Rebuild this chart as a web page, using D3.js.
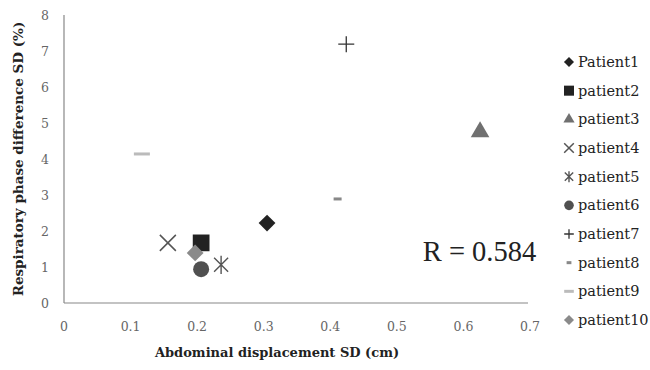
<!DOCTYPE html>
<html><head><meta charset="utf-8">
<script src="https://cdn.jsdelivr.net/npm/d3@7"></script>
<style>body{margin:0;background:#fff;} svg{display:block;}</style>
</head><body><svg id="c" width="650" height="370"></svg>
<script>
const patients = ["Patient1","patient2","patient3","patient4","patient5","patient6","patient7","patient8","patient9","patient10"];
const xValues = [0.305, 0.206, 0.625, 0.156, 0.236, 0.206, 0.424, 0.411, 0.117, 0.197];
const yValues = [2.22, 1.67, 4.75, 1.67, 1.06, 0.94, 7.19, 2.89, 4.14, 1.39];
const shapes = ["diamond","square","triangle","x","asterisk","circle","plus","dash","dash2","diamond"];
const colors = ["#222","#222","#707070","#555","#555","#505050","#333","#888","#bbb","#8a8a8a"];
const xTicks = [0,0.1,0.2,0.3,0.4,0.5,0.6,0.7];
const yTicks = [0,1,2,3,4,5,6,7,8];
const rText = "R = 0.584";

const svg = d3.select("#c");
const font = "'DejaVu Serif', serif";
const x = d3.scaleLinear().domain([0,0.7]).range([64,530]);
const y = d3.scaleLinear().domain([0,8]).range([303,15]);

svg.append("line").attr("x1",x(0)).attr("x2",x(0.7)-2).attr("y1",y(0)).attr("y2",y(0)).attr("stroke","#888").attr("stroke-width",1.2);
svg.append("line").attr("x1",x(0)).attr("x2",x(0)).attr("y1",y(0)).attr("y2",y(8)).attr("stroke","#888").attr("stroke-width",1.2);

svg.selectAll(".xt").data(xTicks).enter().append("text")
  .attr("x",d=>x(d)).attr("y",331).attr("text-anchor","middle")
  .attr("font-family",font).attr("font-size",12.5).attr("fill","#666")
  .text(d=>d===0?"0":d3.format(".1f")(d));
svg.selectAll(".yt").data(yTicks).enter().append("text")
  .attr("x",45).attr("y",d=>y(d)+4.5).attr("text-anchor","middle")
  .attr("font-family",font).attr("font-size",12.5).attr("fill","#666")
  .text(d=>d);

svg.append("text").attr("x",277).attr("y",357).attr("text-anchor","middle")
  .attr("font-family",font).attr("font-weight","bold").attr("font-size",13).attr("fill","#222")
  .text("Abdominal displacement SD (cm)");
svg.append("text").attr("transform","translate(23,159) rotate(-90)").attr("text-anchor","middle")
  .attr("font-family",font).attr("font-weight","bold").attr("font-size",13.5).attr("fill","#222")
  .text("Respiratory phase difference SD (%)");

svg.append("text").attr("x",479.5).attr("y",261).attr("text-anchor","middle")
  .attr("font-family","'Liberation Serif', serif").attr("font-size",28.5).attr("fill","#222")
  .text(rText);

function drawMarker(g, shape, color, s) {
  if (shape==="diamond") g.append("path").attr("d",d3.symbol(d3.symbolDiamond2, 180*s*s)()).attr("fill",color);
  else if (shape==="square") g.append("path").attr("d",d3.symbol(d3.symbolSquare, 280*s*s)()).attr("fill",color);
  else if (shape==="triangle") g.append("path").attr("d",d3.symbol(d3.symbolTriangle, 150*s*s)()).attr("fill",color);
  else if (shape==="circle") g.append("circle").attr("r",8*s).attr("fill",color);
  else if (shape==="x") { const r=8*s; g.append("path").attr("d",`M${-r},${-r}L${r},${r}M${-r},${r}L${r},${-r}`).attr("stroke",color).attr("stroke-width",1.5); }
  else if (shape==="asterisk") { const r=7*s; g.append("path").attr("d",`M${-r},${-r}L${r},${r}M${-r},${r}L${r},${-r}M0,${-r*1.3}L0,${r*1.3}`).attr("stroke",color).attr("stroke-width",1.4); }
  else if (shape==="plus") { const r=8*s; g.append("path").attr("d",`M${-r},0L${r},0M0,${-r}L0,${r}`).attr("stroke",color).attr("stroke-width",1.3); }
  else if (shape==="dash") { const r=4*s; g.append("rect").attr("x",-r).attr("y",-1.5).attr("width",2*r).attr("height",3).attr("fill",color); }
  else if (shape==="dash2") { const r=8*s; g.append("rect").attr("x",-r).attr("y",-1.5).attr("width",2*r).attr("height",3).attr("fill",color); }
}

patients.forEach((p,i)=>{
  const g = svg.append("g").attr("transform",`translate(${x(xValues[i])},${y(yValues[i])})`);
  drawMarker(g, shapes[i], colors[i], 1);
});

const ly = d3.scalePoint().domain(patients).range([62,320]);
patients.forEach((p,i)=>{
  const g = svg.append("g").attr("transform",`translate(569,${ly(p)})`);
  drawMarker(g, shapes[i], colors[i], 0.6);
  svg.append("text").attr("x",578).attr("y",ly(p)+5).attr("font-family",font).attr("font-size",14.5).attr("fill","#222").text(p);
});
</script></body></html>
